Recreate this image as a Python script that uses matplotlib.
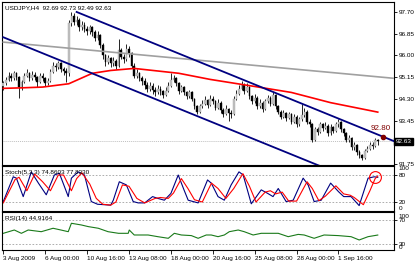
import matplotlib
matplotlib.use('Agg')
import numpy as np
import matplotlib.pyplot as plt

# USDJPY H4 bars, 3 Aug - 3 Sep 2009
closes = [94.90, 95.05, 95.20, 95.10, 95.30, 95.15, 94.75, 94.95, 95.20, 95.30,
          95.10, 95.25, 95.15, 94.95, 95.20, 95.10, 94.90, 95.00, 95.35, 95.60,
          95.55, 95.70, 95.45, 95.40, 95.30, 97.25, 97.55, 97.30, 97.40, 97.10,
          97.20, 97.05, 96.95, 97.10, 96.90, 96.70, 96.80, 96.40, 96.00, 95.75,
          95.90, 95.70, 95.80, 95.60, 96.20, 95.95, 95.85, 96.25, 96.10, 95.60,
          95.20, 95.30, 95.10, 95.00, 94.85, 94.70, 94.80, 94.65, 94.55, 94.70,
          94.60, 94.45, 94.60, 94.80, 95.05, 95.10, 94.90, 94.60, 94.75, 94.55,
          94.40, 94.55, 94.30, 94.00, 93.80, 94.00, 94.10, 94.25, 94.05, 94.30,
          94.20, 93.95, 94.15, 93.85, 93.70, 93.90, 93.75, 93.70, 94.30, 94.50,
          94.70, 94.85, 94.60, 94.75, 94.40, 94.20, 94.35, 94.00, 94.15, 93.90,
          94.20, 94.35, 94.10, 94.45, 94.00, 93.80, 93.60, 93.75, 93.55, 93.70,
          93.40, 93.60, 93.30, 93.50, 93.65, 93.80, 93.40, 93.30, 92.70, 93.10,
          93.00, 93.30, 93.15, 93.25, 92.95, 93.20, 93.05, 93.30, 93.40, 93.10,
          92.95, 92.70, 92.75, 92.40, 92.50, 92.20, 92.10, 92.00, 92.25, 92.35,
          92.50, 92.45, 92.69, 92.63]
highs = [95.00, 95.15, 95.35, 95.30, 95.40, 95.35, 95.20, 95.05, 95.30, 95.45,
         95.35, 95.40, 95.35, 95.20, 95.30, 95.30, 95.15, 95.10, 95.45, 95.75,
         95.70, 95.80, 95.75, 95.55, 95.50, 97.40, 97.70, 97.65, 97.55, 97.45,
         97.35, 97.30, 97.15, 97.20, 97.15, 97.00, 96.95, 96.85, 96.50, 96.05,
         96.00, 95.95, 95.95, 95.85, 96.65, 96.30, 96.05, 96.45, 96.35, 96.15,
         95.70, 95.45, 95.35, 95.20, 95.10, 94.95, 94.95, 94.90, 94.75, 94.85,
         94.80, 94.65, 94.75, 94.95, 95.30, 95.25, 95.15, 94.95, 94.85, 94.80,
         94.60, 94.65, 94.60, 94.35, 94.05, 94.10, 94.25, 94.40, 94.30, 94.45,
         94.40, 94.25, 94.30, 94.20, 93.95, 94.05, 93.95, 93.85, 94.40, 94.65,
         94.85, 95.00, 94.90, 94.90, 94.80, 94.45, 94.50, 94.40, 94.30, 94.20,
         94.30, 94.45, 94.40, 94.55, 94.50, 94.05, 93.85, 93.85, 93.80, 93.80,
         93.75, 93.70, 93.65, 93.60, 94.10, 93.95, 93.85, 93.50, 93.35, 93.20,
         93.20, 93.40, 93.35, 93.40, 93.30, 93.30, 93.25, 93.40, 93.50, 93.45,
         93.15, 93.00, 92.90, 92.80, 92.60, 92.55, 92.30, 92.15, 92.35, 92.45,
         92.60, 92.60, 92.75, 92.73]
lows = [94.65, 94.85, 95.00, 95.00, 95.05, 95.05, 94.35, 94.65, 94.90, 95.15,
        95.00, 95.05, 95.05, 94.75, 94.90, 95.00, 94.80, 94.85, 94.95, 95.30,
        95.40, 95.45, 95.35, 95.25, 94.95, 95.20, 97.15, 97.20, 97.20, 96.95,
        97.00, 96.90, 96.80, 96.85, 96.75, 96.55, 96.60, 96.30, 95.85, 95.60,
        95.65, 95.55, 95.60, 95.45, 95.55, 95.85, 95.70, 95.80, 95.95, 95.50,
        95.10, 95.10, 95.00, 94.85, 94.70, 94.55, 94.60, 94.50, 94.40, 94.50,
        94.45, 94.35, 94.40, 94.55, 94.75, 94.95, 94.80, 94.50, 94.55, 94.45,
        94.30, 94.35, 94.20, 93.90, 93.70, 93.75, 93.95, 94.05, 93.95, 94.00,
        94.10, 93.85, 93.90, 93.75, 93.60, 93.65, 93.45, 93.55, 93.65, 94.25,
        94.45, 94.65, 94.50, 94.55, 94.30, 94.10, 94.15, 93.90, 93.95, 93.80,
        93.85, 94.15, 94.00, 94.05, 93.90, 93.70, 93.50, 93.55, 93.45, 93.50,
        93.30, 93.35, 93.20, 93.25, 93.45, 93.60, 93.30, 93.20, 92.60, 92.65,
        92.90, 92.95, 93.05, 93.10, 92.85, 92.90, 92.95, 93.00, 93.20, 93.00,
        92.85, 92.60, 92.60, 92.30, 92.30, 92.10, 92.00, 91.92, 91.95, 92.20,
        92.30, 92.35, 92.40, 92.49]
first_open = 94.80
opens = [first_open] + closes[:-1]

# red moving average, gray trend line, blue channel (bar index, price)
ma_bars = [0, 7, 15, 25, 34, 41, 50, 67, 79, 95, 110, 125, 143]
ma_vals = [94.71, 94.73, 94.76, 94.89, 95.30, 95.41, 95.49, 95.30, 95.06, 94.80, 94.55, 94.15, 93.78]
gray_line = ([0, 149.5], [96.52, 95.10])
upper_channel = ([28, 149.5], [97.70, 92.63])
lower_channel = ([0, 149.5], [96.71, 90.48])
target_bar, target_price = 145, 92.80
last_price = 92.63

price_ticks = [97.70, 96.85, 96.00, 95.15, 94.30, 93.45, 91.75]

# Stochastic(5,3,3)
stoch_k_bars = [0, 3.8, 5, 7.6, 10.7, 13.4, 16.4, 19.5, 21.4, 24.8, 26, 28.6, 31, 33.6, 36, 41,
                42, 44.3, 47, 49.6, 51.5, 54, 57, 59, 61.5, 64, 66.8, 69, 70.6, 74.4, 78, 79.4,
                82, 84.4, 87, 90, 91.6, 94.7, 98.5, 101, 103, 105, 108, 110.7, 114.5, 116.4,
                118.7, 121.4, 125, 128, 130, 132.8, 135.9, 139.3, 141.6, 143]
stoch_k = [21, 76, 73, 32, 87, 62, 36, 80, 84, 32, 73, 87, 80, 21, 15, 13,
           24, 65, 58, 21, 18, 18, 32, 28, 24, 39, 80, 47, 24, 18, 69, 62,
           32, 24, 58, 87, 80, 16, 47, 39, 32, 50, 21, 24, 73, 58,
           21, 24, 62, 43, 32, 32, 12, 73, 76, 74.86]
stoch_d_bars = [0, 4.5, 6, 9, 12, 15, 18, 21, 23, 26, 28, 30, 33, 35.5, 38, 41, 43, 45.5,
                48, 51, 54, 58, 60, 63, 65, 68, 70.5, 73, 76, 79.5, 82, 85, 88, 91.5, 94,
                96.5, 100, 102, 104, 106.5, 109, 112, 116, 118, 120.5, 123, 127, 130,
                132.5, 134, 137.5, 140, 142, 143]
stoch_d = [18, 70, 75, 45, 82, 65, 45, 80, 80, 45, 72, 85, 60, 28, 15, 13, 20, 58,
           55, 28, 18, 28, 30, 28, 40, 72, 50, 25, 20, 62, 50, 28, 50, 83, 55,
           20, 42, 45, 38, 42, 22, 22, 65, 50, 23, 33, 56, 38,
           35, 30, 14, 45, 72, 77.83]

# RSI(14)
rsi_bars = [0, 4.2, 6.9, 9.5, 14.5, 19, 22, 24.8, 26, 29.8, 32.4, 36.3, 40, 44, 47.7, 48.1,
            50, 55.3, 59, 63, 65.3, 68, 71.8, 74.4, 77.5, 79.4, 82, 84.4, 86.3, 89.7, 92,
            95.4, 98.5, 105, 108.8, 112.6, 114.9, 118.7, 122.5, 127.9, 132.8, 135.9, 139.3, 143]
rsi_vals = [47.8, 53.3, 47.8, 53.3, 50.5, 56.2, 53.3, 50.5, 64.5, 61.7, 59, 56.2, 50.5, 47.8, 47.8, 53.3,
            45, 45, 42.2, 39.5, 47.8, 45, 44, 39.5, 45, 45, 42.2, 45, 50.5, 53.3, 50.5,
            45, 47.8, 47.8, 42.2, 46, 45, 39.5, 45, 44, 42.2, 36.7, 42.2, 44.92]

date_bars = [0, 16, 32, 48, 64, 80, 96, 112, 128]
date_labels = ['3 Aug 2009', '6 Aug 00:00', '10 Aug 16:00', '13 Aug 08:00', '18 Aug 00:00',
               '20 Aug 16:00', '25 Aug 08:00', '28 Aug 00:00', '1 Sep 16:00']

FS = 4.6
plt.rcParams['font.family'] = ['Liberation Sans', 'DejaVu Sans']


def style_panel(ax):
    """Box border, right hand price scale, no x labels."""
    for sp in ax.spines.values():
        sp.set_color('black')
        sp.set_linewidth(0.8)
    ax.yaxis.tick_right()
    ax.tick_params(axis='y', labelsize=FS, length=2, width=0.6, pad=1.5, direction='out')
    ax.tick_params(axis='x', bottom=False, labelbottom=False)
    ax.set_xlim(-0.5, 149.2)


def draw_candles(ax, opens, highs, lows, closes):
    """Draws H4 candles: black wicks, black bear bodies, gray bull bodies."""
    x = np.arange(len(closes))
    ax.vlines(x, lows, highs, color='black', linewidth=0.6, zorder=2)
    for i, (o, c) in enumerate(zip(opens, closes)):
        up = c >= o
        ax.bar(i, max(abs(c - o), 0.02), bottom=min(o, c), width=0.65,
               color='#c0c0c0' if up else 'black', edgecolor='black' if not up else '#a8a8a8',
               linewidth=0.3, zorder=3)


fig = plt.figure(figsize=(4.2, 2.63), dpi=100)
W, H = 420.0, 263.0
ax_p = fig.add_axes([2 / W, (H - 165) / H, 392 / W, 163 / H])
ax_s = fig.add_axes([2 / W, (H - 211) / H, 392 / W, 45 / H])
ax_r = fig.add_axes([2 / W, (H - 250) / H, 392 / W, 38 / H])

# price panel
style_panel(ax_p)
ax_p.set_ylim(91.71, 98.09)
ax_p.axhline(last_price, color='#c0c0c0', linewidth=0.7, linestyle=(0, (1, 1)), zorder=1)
ax_p.plot(*gray_line, color='#a0a0a0', linewidth=1.2, zorder=4)
ax_p.plot(ma_bars, ma_vals, color='red', linewidth=1.2, zorder=4)
ax_p.plot(*upper_channel, color='#000080', linewidth=1.3, zorder=5)
ax_p.plot(*lower_channel, color='#000080', linewidth=1.3, zorder=5)
draw_candles(ax_p, opens, highs, lows, closes)
ax_p.plot(target_bar, target_price, 'o', color='#800000', markersize=3, zorder=6)
ax_p.text(target_bar - 1, target_price + 0.2, '92.80', color='#800000', fontsize=5.8,
          ha='center', va='bottom', zorder=6)
ax_p.set_yticks(price_ticks)
ax_p.set_yticklabels(['%.2f' % t for t in price_ticks])
ax_p.text(1.004, last_price, '%.2f' % last_price, transform=ax_p.get_yaxis_transform(),
          color='white', fontsize=FS, ha='left', va='center',
          bbox=dict(boxstyle='square,pad=0.2', facecolor='black', edgecolor='black'))
ax_p.text(0.008, 0.965, 'USDJPY,H4  92.69 92.73 92.49 92.63', transform=ax_p.transAxes,
          fontsize=FS, ha='left', va='center')

# stochastic panel
style_panel(ax_s)
ax_s.set_ylim(0, 100)
for lvl in (80, 20):
    ax_s.axhline(lvl, color='#a0a0a0', linewidth=0.6, linestyle=(0, (2, 2)))
ax_s.plot(stoch_k_bars, stoch_k, color='#000080', linewidth=0.8)
ax_s.plot(stoch_d_bars, stoch_d, color='red', linewidth=0.8)
ax_s.plot(142, 76, 'o', markerfacecolor='none', markeredgecolor='red',
          markersize=8.5, markeredgewidth=0.8)
ax_s.set_yticks([80, 20])
ax_s.set_yticklabels(['80', '20'])
ax_s.text(1.012, 1.0, '100', transform=ax_s.transAxes, fontsize=FS, va='top', ha='left')
ax_s.text(1.012, 0.0, '0', transform=ax_s.transAxes, fontsize=FS, va='bottom', ha='left')
ax_s.text(0.008, 0.86, 'Stoch(5,3,3) 74.8603 77.8330', transform=ax_s.transAxes,
          fontsize=FS, ha='left', va='center')

# RSI panel
style_panel(ax_r)
ax_r.set_ylim(20, 83.3)
for lvl in (70, 30):
    ax_r.axhline(lvl, color='#a0a0a0', linewidth=0.6, linestyle=(0, (2, 2)))
ax_r.plot(rsi_bars, rsi_vals, color='#1a7a1a', linewidth=0.8)
ax_r.set_yticks([70, 30])
ax_r.set_yticklabels(['70', '30'])
ax_r.text(1.012, 0.88, '100', transform=ax_r.transAxes, fontsize=FS, va='center', ha='left')
ax_r.text(1.012, 0.0, '0', transform=ax_r.transAxes, fontsize=FS, va='bottom', ha='left')
ax_r.text(0.008, 0.84, 'RSI(14) 44.9164', transform=ax_r.transAxes,
          fontsize=FS, ha='left', va='center')
ax_r.tick_params(axis='x', bottom=True, labelbottom=True, labelsize=FS, length=3,
                 width=0.6, pad=1.5)
ax_r.set_xticks(date_bars)
ax_r.set_xticklabels(date_labels)
for lbl in ax_r.get_xticklabels():
    lbl.set_ha('left')

fig.savefig('out.png', dpi=100)
